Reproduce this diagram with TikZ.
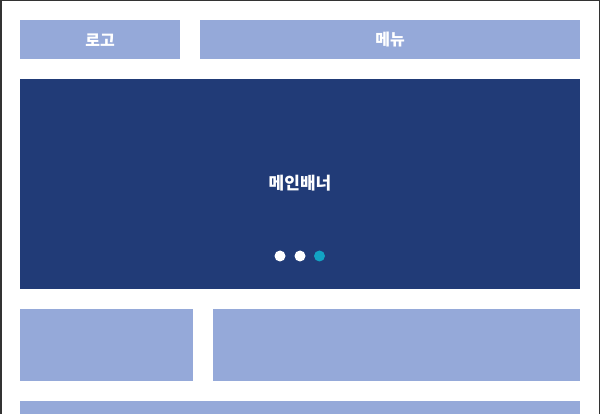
\documentclass[tikz,border=0pt]{standalone}
\usepackage{fontspec}
\newfontfamily\kor{Noto Sans CJK KR}
\usepackage{tikz}
\definecolor{bloque}{HTML}{95A9D9}
\definecolor{marino}{HTML}{213B77}
\definecolor{turquesa}{HTML}{12A3C4}
\tikzstyle{caja} = [fill=bloque, rectangle, inner sep=0pt, anchor=north west, text=white, font=\kor\bfseries\fontsize{16}{18}\selectfont]
\tikzstyle{banner} = [caja, fill=marino, font=\kor\bfseries\fontsize{17}{19}\selectfont]
\tikzstyle{punto} = [circle, fill=white, inner sep=0pt, minimum size=11pt]
\begin{document}
\begin{tikzpicture}[x=1pt,y=-1pt]
		\useasboundingbox (0,0) rectangle (600,414);
		\draw[line width=1.5pt, draw=black!80] (0.75,414) -- (0.75,0.75) -- (599.25,0.75) -- (599.25,414);
		\node[caja, minimum width=160pt, minimum height=39pt](logo) at (20,20){로고};
		\node[caja, minimum width=380pt, minimum height=39pt](menu) at (200,20){메뉴};
		\node[banner, minimum width=560pt, minimum height=210pt](principal) at (20,79){};
		\node[text=white, font=\kor\bfseries\fontsize{17}{19}\selectfont](titulo) at (300,183){메인배너};
		\node[punto](p1) at (280,256){};
		\node[punto](p2) at (300,256){};
		\node[punto, fill=turquesa](p3) at (319.5,256){};
		\node[caja, minimum width=173pt, minimum height=72pt](izq) at (20,309){};
		\node[caja, minimum width=367pt, minimum height=72pt](der) at (213,309){};
		\node[caja, minimum width=560pt, minimum height=20pt](pie) at (20,401){};
	\end{tikzpicture}
\end{document}
